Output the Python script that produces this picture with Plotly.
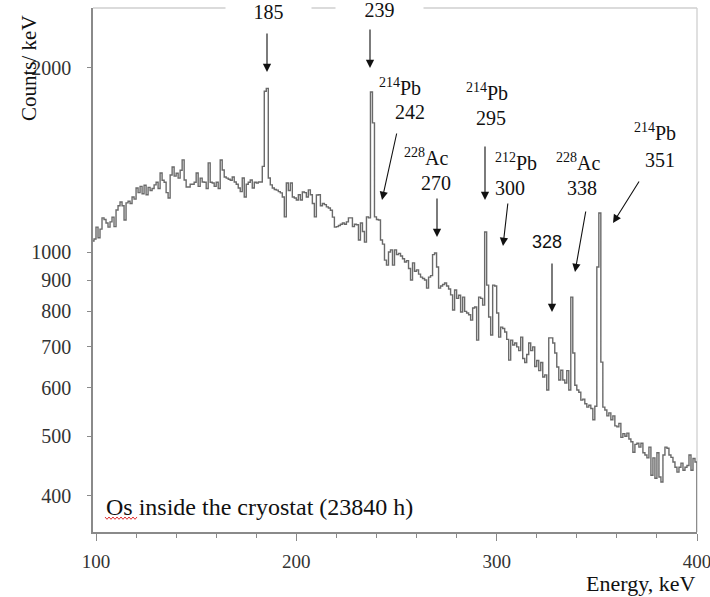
import math
import plotly.graph_objects as go

# ---------------- data ----------------
energy_kev = list(range(98, 400))  # left edge of each 1 keV bin
counts_per_kev = [
    1042, 1050, 1098, 1055, 1090, 1137, 1130, 1115, 1098, 1120,
    1140, 1100, 1171, 1190, 1207, 1190, 1128, 1203, 1210, 1200,
    1230, 1220, 1272, 1250, 1280, 1245, 1285, 1240, 1275, 1260,
    1270, 1287, 1300, 1270, 1346, 1310, 1300, 1250, 1225, 1336,
    1377, 1330, 1345, 1320, 1360, 1414, 1311, 1277, 1277, 1290,
    1290, 1300, 1346, 1280, 1320, 1301, 1300, 1270, 1398, 1300,
    1296, 1280, 1300, 1270, 1413, 1361, 1326, 1320, 1315, 1310,
    1326, 1301, 1290, 1272, 1255, 1321, 1230, 1290, 1300, 1311,
    1272, 1300, 1296, 1301, 1301, 1380, 1830, 1850, 1321, 1287,
    1272, 1265, 1262, 1255, 1249, 1230, 1141, 1296, 1260, 1296,
    1230, 1225, 1216, 1240, 1216, 1253, 1250, 1230, 1263, 1240,
    1200, 1141, 1239, 1240, 1190, 1200, 1195, 1185, 1180, 1170,
    1140, 1098, 1100, 1105, 1110, 1115, 1110, 1120, 1137, 1137,
    1100, 1110, 1108, 1046, 1115, 1080, 1038, 1141, 1137, 1825,
    1625, 1141, 1130, 1128, 1046, 1030, 970, 952, 1000, 1008,
    952, 1008, 990, 995, 985, 975, 963, 968, 940, 900,
    960, 930, 935, 920, 910, 905, 900, 873, 910, 915,
    990, 996, 945, 873, 880, 885, 890, 880, 870, 851,
    804, 867, 840, 850, 798, 844, 800, 795, 790, 774,
    810, 813, 718, 844, 840, 819, 1078, 883, 783, 732,
    883, 880, 795, 726, 754, 750, 740, 720, 666, 718,
    705, 710, 700, 690, 726, 670, 660, 680, 710, 690,
    700, 650, 665, 640, 660, 625, 630, 595, 724, 724,
    710, 684, 649, 618, 641, 618, 611, 640, 595, 844,
    684, 606, 595, 590, 573, 575, 565, 558, 562, 555,
    532, 560, 945, 1158, 661, 558, 552, 540, 546, 532,
    540, 520, 518, 525, 498, 505, 500, 506, 495, 490,
    471, 485, 487, 480, 487, 470, 466, 461, 480, 432,
    461, 427, 470, 429, 421, 466, 480, 478, 466, 462,
    454, 445, 437, 445, 452, 440, 445, 448, 466, 440,
    460, 454,
]
spectrum_end_kev = 400
y_tick_values = [400, 500, 600, 700, 800, 900, 1000, 2000]
y_tick_labels = ["400", "500", "600", "700", "800", "900", "1000", "2000"]
x_tick_values = [100, 200, 300, 400]
x_tick_labels = ["100", "200", "300", "400"]

# ---------------- layout helpers (pixel -> paper) ----------------
W, H = 710, 597
L, R, T, B = 93, 697, 8, 532


def px(x):
    return (x - L) / (R - L)


def py(y):
    return (B - y) / (B - T)


SERIF = "Liberation Serif"
TXT = "#111111"

fig = go.Figure()
fig.add_trace(go.Scatter(
    x=energy_kev + [spectrum_end_kev],
    y=counts_per_kev + [1],
    mode="lines",
    line=dict(shape="hv", color="#6a6a6a", width=1.4),
    hoverinfo="skip",
    showlegend=False,
))

annotations = []

# arrows: (tail_x, tail_y, tip_x, tip_y) in pixels
arrows = [
    (267, 32, 267, 72),
    (370, 28, 370, 68),
    (397, 132, 382, 200),
    (437, 197, 437, 237),
    (485, 145, 485, 200),
    (508, 202, 503, 246),
    (552, 262, 552, 312),
    (586, 210, 575, 272),
    (640, 180, 613, 223),
]
for tx, ty, hx, hy in arrows:
    annotations.append(dict(
        x=px(hx), y=py(hy), xref="paper", yref="paper",
        ax=tx - hx, ay=ty - hy, axref="pixel", ayref="pixel",
        text="", showarrow=True, arrowhead=2, arrowsize=1.5,
        arrowwidth=1.1, arrowcolor="#111111", standoff=0,
    ))

# labels: (text, center_x, center_y, font family, size, white box width)
labels = [
    ("185", 268, 12, SERIF, 20, 83),
    ("239", 379, 10, SERIF, 20, 85),
    ("<sup>214</sup>Pb", 400, 87, SERIF, 20, None),
    ("242", 410, 112, SERIF, 20, None),
    ("<sup>214</sup>Pb", 487, 92, SERIF, 20, None),
    ("295", 491, 118, SERIF, 20, None),
    ("<sup>228</sup>Ac", 426, 157, SERIF, 20, None),
    ("270", 436, 183, SERIF, 20, None),
    ("<sup>212</sup>Pb", 516, 162, SERIF, 20, None),
    ("300", 510, 188, SERIF, 20, None),
    ("<sup>228</sup>Ac", 578, 162, SERIF, 20, None),
    ("338", 582, 188, SERIF, 20, None),
    ("328", 547, 242, "Liberation Sans", 18, None),
    ("<sup>214</sup>Pb", 655, 132, SERIF, 20, None),
    ("351", 660, 160, SERIF, 20, None),
]
for text, cx, cy, fam, size, boxw in labels:
    a = dict(
        x=px(cx), y=py(cy), xref="paper", yref="paper",
        text=text, showarrow=False, xanchor="center", yanchor="middle",
        font=dict(family=fam, size=size, color=TXT),
    )
    if boxw:
        a["bgcolor"] = "white"
        a["width"] = boxw
        a["height"] = 22
    annotations.append(a)

# axis titles and in-plot caption
annotations.append(dict(
    x=px(29), y=py(68), xref="paper", yref="paper", text="Counts/ keV",
    textangle=-90, showarrow=False, xanchor="center", yanchor="middle",
    font=dict(family=SERIF, size=21, color=TXT),
))
annotations.append(dict(
    x=1.0, y=py(583), xref="paper", yref="paper", text="Energy, keV",
    showarrow=False, xanchor="right", yanchor="middle",
    font=dict(family=SERIF, size=22, color=TXT),
))
annotations.append(dict(
    x=px(104), y=py(507), xref="paper", yref="paper",
    text="Os inside the cryostat (23840 h)",
    showarrow=False, xanchor="left", yanchor="middle",
    font=dict(family=SERIF, size=24, color=TXT),
))

# red spell-check squiggle under "Os"
pts = []
xs = 105
i = 0
while xs <= 138:
    pts.append((px(xs), py(518 + (1.3 if i % 2 else -1.0))))
    xs += 2
    i += 1
path = "M " + " L ".join(f"{a:.5f},{b:.5f}" for a, b in pts)

shapes = [
    dict(type="line", xref="paper", yref="paper", x0=0, x1=1, y0=1, y1=1,
         line=dict(color="#cfcfcf", width=1.3), layer="below"),
    dict(type="line", xref="paper", yref="paper", x0=1, x1=1, y0=0, y1=1,
         line=dict(color="#cfcfcf", width=1.3), layer="below"),
    dict(type="path", xref="paper", yref="paper", path=path,
         line=dict(color="#e03030", width=1)),
]

fig.update_layout(
    width=W, height=H,
    margin=dict(l=L, r=W - R, t=T, b=H - B, pad=0, autoexpand=False),
    paper_bgcolor="white", plot_bgcolor="white",
    showlegend=False,
    annotations=annotations,
    shapes=shapes,
    xaxis=dict(
        range=[98.5, 400.001], tickmode="array", tickvals=x_tick_values,
        ticktext=x_tick_labels, ticks="outside", ticklen=7, tickwidth=1.2,
        tickcolor="#8a8a8a", showline=True, linecolor="#8a8a8a", linewidth=1.5,
        showgrid=False, zeroline=False, ticklabelstandoff=4,
        ticklabeloverflow="allow",
        tickfont=dict(family=SERIF, size=19, color="#333333"),
        minor=dict(tick0=100, dtick=20, ticks="outside", ticklen=4,
                   tickcolor="#8a8a8a", tickwidth=1, showgrid=False),
    ),
    yaxis=dict(
        type="log", range=[2.5427, 3.3985], tickmode="array",
        tickvals=y_tick_values, ticktext=y_tick_labels,
        ticks="outside", ticklen=4, tickwidth=1.2, tickcolor="#8a8a8a",
        showline=True, linecolor="#8a8a8a", linewidth=1.5,
        showgrid=False, zeroline=False, ticklabelstandoff=12,
        tickfont=dict(family=SERIF, size=20, color="#333333"),
    ),
)

fig.write_html("out.html")
